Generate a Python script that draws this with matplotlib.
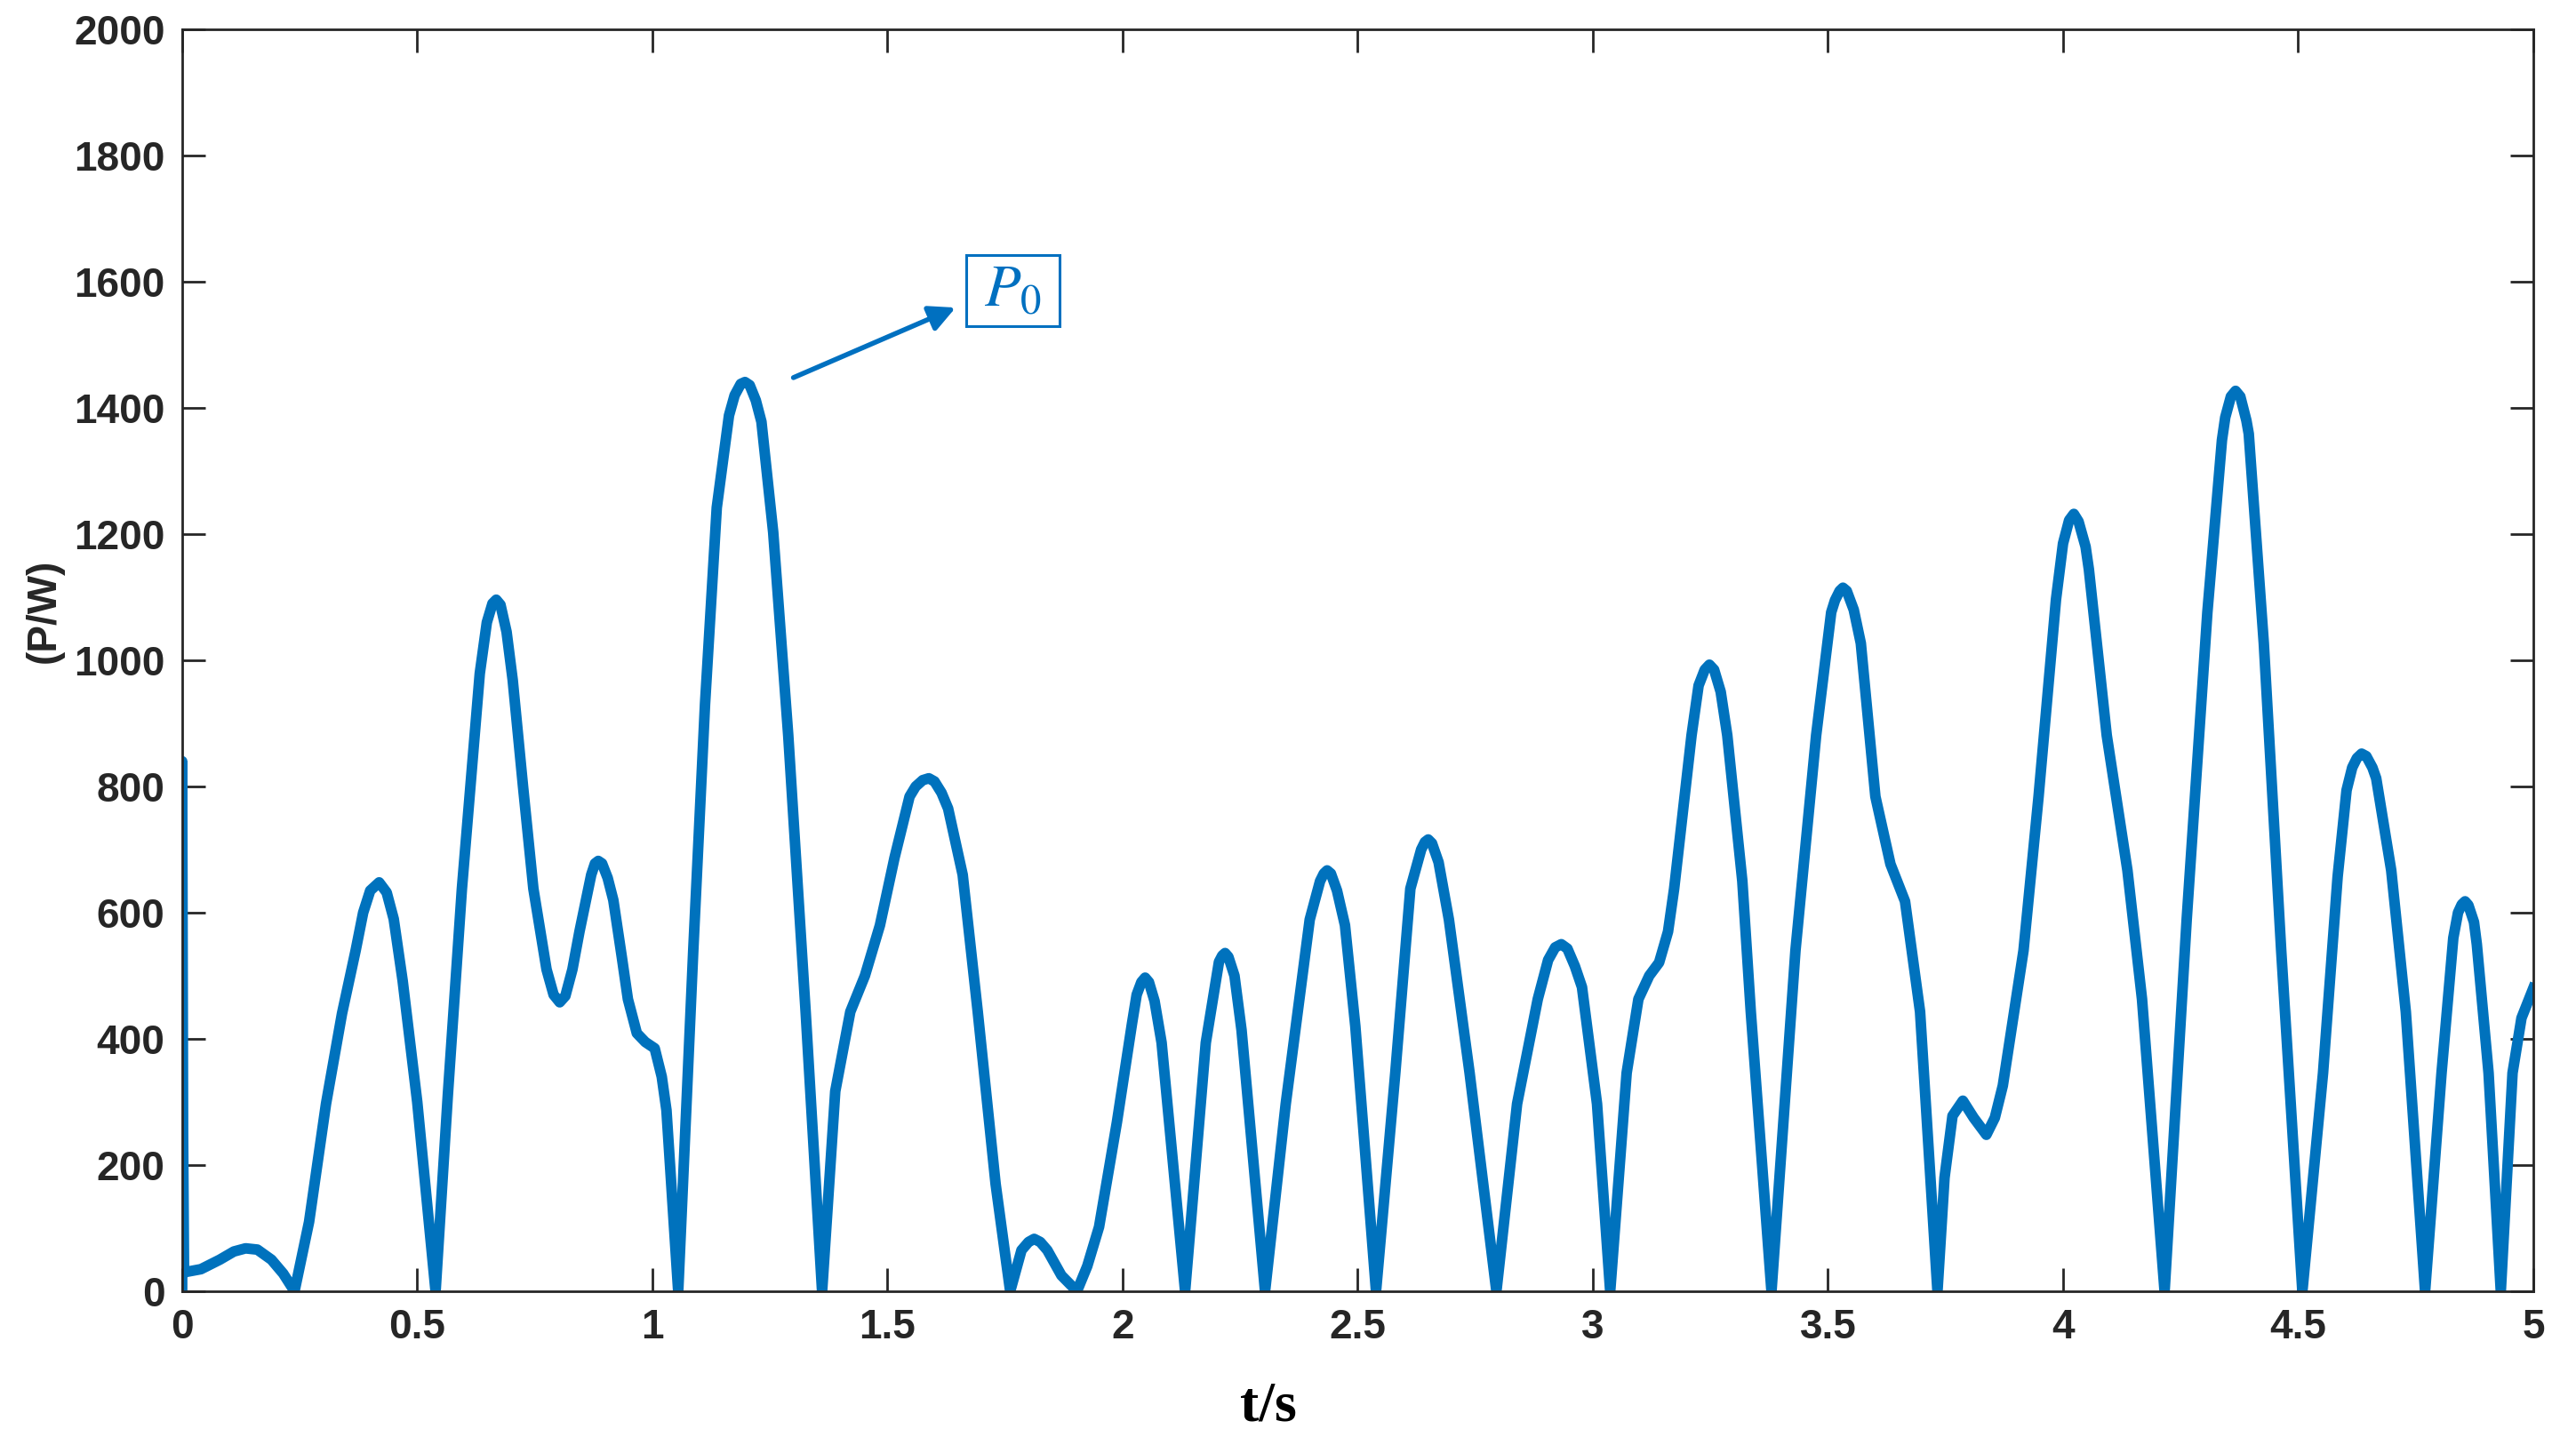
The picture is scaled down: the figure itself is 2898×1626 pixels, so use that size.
import matplotlib
matplotlib.use('Agg')
import matplotlib.pyplot as plt
from matplotlib.patches import Rectangle

# time (s) and power (W)
t = [0.000, 0.000, 0.002, 0.004, 0.04, 0.08, 0.11, 0.135, 0.16, 0.19, 0.215, 0.239,
     0.27, 0.306, 0.34, 0.369, 0.385, 0.400, 0.419, 0.435, 0.450, 0.469, 0.50, 0.539,
     0.565, 0.595, 0.633, 0.648, 0.660, 0.668, 0.677, 0.690, 0.703, 0.725, 0.747,
     0.775, 0.790, 0.803, 0.815, 0.830,
     0.845, 0.870, 0.878, 0.885, 0.893, 0.905, 0.917, 0.935, 0.948, 0.967, 0.985, 1.005,
     1.020, 1.030, 1.055,
     1.087, 1.112, 1.137, 1.163, 1.175, 1.188, 1.197, 1.207, 1.220, 1.232, 1.257,
     1.289, 1.326, 1.361,
     1.389, 1.421, 1.452, 1.484, 1.515, 1.547, 1.560, 1.575, 1.588, 1.600, 1.615,
     1.629, 1.660, 1.692, 1.730, 1.761,
     1.785, 1.800, 1.812, 1.825, 1.840, 1.870, 1.903,
     1.925, 1.950, 1.988, 2.020, 2.030, 2.040, 2.048, 2.056, 2.068, 2.083, 2.133,
     2.177, 2.205, 2.212, 2.218, 2.225, 2.238, 2.253, 2.303,
     2.347, 2.398, 2.420, 2.428, 2.435, 2.443, 2.456, 2.473, 2.495, 2.539,
     2.580, 2.612, 2.635, 2.643, 2.650, 2.658, 2.672, 2.694, 2.738, 2.795,
     2.839, 2.883, 2.905, 2.920, 2.933, 2.946, 2.962, 2.977, 3.009, 3.037,
     3.072, 3.097, 3.120, 3.141, 3.160, 3.173, 3.210, 3.225, 3.238, 3.248, 3.258,
     3.272, 3.286, 3.318, 3.336, 3.380,
     3.431, 3.475, 3.507, 3.515, 3.525, 3.532, 3.540, 3.555, 3.570, 3.601, 3.633,
     3.664, 3.696, 3.733,
     3.748, 3.765, 3.787, 3.810, 3.837, 3.855, 3.872, 3.916, 3.948, 3.985, 4.000,
     4.013, 4.023, 4.033, 4.048, 4.055, 4.093, 4.137, 4.168, 4.216,
     4.263, 4.307, 4.338, 4.345, 4.357, 4.367, 4.377, 4.390, 4.395, 4.427, 4.464, 4.509,
     4.553, 4.584, 4.603, 4.615, 4.625, 4.635, 4.645, 4.658, 4.666, 4.698, 4.729, 4.770,
     4.805, 4.830, 4.840, 4.848, 4.855, 4.862, 4.874, 4.880, 4.905, 4.931,
     4.956, 4.975, 5.000]
power = [0, 840, 250, 30, 35, 50, 63, 68, 66, 50, 28, 0,
         110, 297, 440, 540, 600, 635, 648, 632, 590, 492, 300, 0,
         310, 638, 979, 1060, 1090, 1096, 1088, 1045, 969, 800, 638,
         510, 470, 458, 468, 510,
         570, 660, 678, 682, 678, 655, 620, 530, 463, 409, 395, 385,
         340, 287, 0,
         540, 930, 1242, 1388, 1420, 1438, 1441, 1436, 1412, 1378, 1203,
         881, 443, 0,
         317, 443, 500, 580, 687, 784, 800, 810, 813, 808, 790,
         765, 660, 443, 170, 0,
         65, 78, 83, 78, 65, 25, 0,
         40, 102, 268, 424, 470, 490, 497, 490, 460, 394, 0,
         394, 522, 532, 536, 530, 500, 414, 0,
         297, 589, 650, 662, 667, 662, 635, 580, 420, 0,
         346, 638, 700, 712, 716, 710, 680, 589, 346, 0,
         297, 463, 525, 545, 550, 543, 515, 482, 297, 0,
         346, 463, 500, 521, 570, 638, 881, 960, 985, 993, 985,
         950, 881, 650, 443, 0,
         540, 881, 1076, 1095, 1110, 1115, 1110, 1080, 1027, 784, 677,
         618, 443, 0,
         180, 278, 302, 275, 248, 275, 326, 540, 784, 1096, 1185,
         1222, 1232, 1220, 1180, 1144, 881, 667, 463, 0,
         589, 1076, 1349, 1385, 1418, 1427, 1418, 1380, 1359, 1027, 540, 0,
         346, 657, 794, 830, 845, 852, 848, 830, 813, 667, 443, 0,
         346, 560, 600, 613, 618, 612, 585, 550, 346, 0,
         346, 433, 480]

x_ticks = [0, 0.5, 1, 1.5, 2, 2.5, 3, 3.5, 4, 4.5, 5]
x_tick_labels = ['0', '0.5', '1', '1.5', '2', '2.5', '3', '3.5', '4', '4.5', '5']
y_ticks = list(range(0, 2001, 200))

line_color = '#0072BD'
note_color = '#0070C0'
axis_color = '#262626'

plt.rcParams['mathtext.fontset'] = 'stix'

fig = plt.figure(figsize=(14.49, 8.13), dpi=200)
ax = fig.add_axes([0.0707, 0.1064, 0.9127, 0.8733])

ax.plot(t, power, color=line_color, linewidth=4.3, solid_joinstyle='round')

ax.set_xlim(0, 5)
ax.set_ylim(0, 2000)
ax.set_xticks(x_ticks)
ax.set_xticklabels(x_tick_labels)
ax.set_yticks(y_ticks)

for lab in ax.get_xticklabels() + ax.get_yticklabels():
    lab.set_fontfamily('Liberation Sans')
    lab.set_fontweight('bold')
    lab.set_fontsize(16.5)
    lab.set_color(axis_color)

ax.tick_params(direction='in', length=9.4, width=1.0, color=axis_color,
               top=True, right=True, pad=7)
for sp in ax.spines.values():
    sp.set_color(axis_color)
    sp.set_linewidth(1.0)

ax.set_ylabel('(P/W)', fontsize=16.5, fontweight='bold', family='Liberation Sans',
              color=axis_color)
ax.yaxis.set_label_coords(-0.0586, 0.539)
ax.yaxis.label.set_va('center')

ax.set_xlabel('t/s', fontsize=23, fontweight='bold', family='Liberation Serif',
              color='black')
ax.xaxis.set_label_coords(0.462, -0.092)
ax.xaxis.label.set_va('center')

# annotation: arrow and boxed label
ax.annotate('', xy=(1.645, 1559), xytext=(1.300, 1448),
            arrowprops=dict(arrowstyle='-|>', color=note_color, lw=2.0,
                            mutation_scale=22, shrinkA=0, shrinkB=0))
ax.add_patch(Rectangle((1.667, 1530), 0.199, 112, fill=False,
                       edgecolor=note_color, linewidth=1.1, zorder=5))
ax.text(1.766, 1588, r'$P_0$', color=note_color, fontsize=24,
        ha='center', va='center')

fig.savefig('out.png', dpi=200, facecolor='white')
